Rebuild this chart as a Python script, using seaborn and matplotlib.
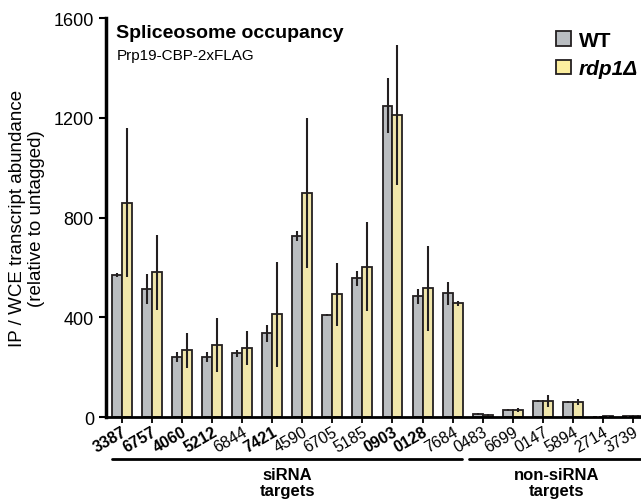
import numpy as np
import pandas as pd
import matplotlib
matplotlib.use('Agg')
import matplotlib.pyplot as plt
import matplotlib.transforms as mtransforms
from matplotlib.patches import Patch
import seaborn as sns

# data
genes = ['3387', '6757', '4060', '5212', '6844', '7421', '4590', '6705', '5185',
         '0903', '0128', '7684', '0483', '6699', '0147', '5894', '2714', '3739']
bold_genes = ['3387', '6757', '4060', '5212', '7421', '0903', '0128']
wt_mean = [568, 512, 240, 240, 256, 336, 728, 408, 556, 1248, 484, 496, 12, 30, 64, 60, 2, 4]
wt_err = [8, 60, 20, 20, 15, 35, 20, 4, 30, 110, 30, 45, 4, 4, 4, 4, 1, 2]
rdp_mean = [860, 580, 268, 288, 276, 412, 900, 492, 604, 1212, 516, 456, 10, 28, 64, 60, 3, 6]
rdp_err = [300, 150, 70, 108, 68, 212, 300, 125, 180, 280, 170, 10, 4, 8, 25, 12, 1, 2]
strains = ['WT', 'rdp1Δ']
colors = ['#b9bdc1', '#fcee9f']
edge = '#231f20'

df = pd.DataFrame({
    'gene': genes * 2,
    'strain': [strains[0]] * len(genes) + [strains[1]] * len(genes),
    'value': wt_mean + rdp_mean,
    'err': wt_err + rdp_err,
})

sns.set_style('ticks')
plt.rcParams['font.family'] = ['Liberation Sans', 'DejaVu Sans']
plt.rcParams.update({'text.color': 'black', 'axes.labelcolor': 'black',
                     'xtick.color': 'black', 'ytick.color': 'black',
                     'axes.edgecolor': 'black'})

fig = plt.figure(figsize=(6.41, 5.02), dpi=100)
ax = fig.add_axes([0.165, 0.167, 0.835, 0.795])

sns.barplot(data=df, x='gene', y='value', hue='strain', order=genes, hue_order=strains,
            palette=colors, width=0.66, errorbar=None, edgecolor=edge, linewidth=1.3,
            legend=False, ax=ax)

# error bars centred on each bar
for cont, s in zip(ax.containers, strains):
    sub = df[df['strain'] == s].set_index('gene').loc[genes]
    xs = [p.get_x() + p.get_width() / 2 for p in cont.patches]
    ax.errorbar(xs, sub['value'], yerr=sub['err'], fmt='none', ecolor=edge,
                elinewidth=1.5, capsize=0, zorder=5)

ax.set_ylim(0, 1600)
ax.set_xlim(-0.53, 17.26)
ax.set_yticks([0, 400, 800, 1200, 1600])
ax.tick_params(axis='y', labelsize=13, width=1.5, length=5)
ax.tick_params(axis='x', labelsize=11.5, width=1.3, length=4, pad=1)
ax.set_xticks(range(len(genes)))
ax.set_xticklabels(genes, rotation=30, ha='right', rotation_mode='anchor')
for lab in ax.get_xticklabels():
    if lab.get_text() in bold_genes:
        lab.set_fontweight('bold')
ax.set_xlabel('')
ax.set_ylabel('IP / WCE transcript abundance\n(relative to untagged)', fontsize=13.5, labelpad=6)
sns.despine(ax=ax)
ax.spines['left'].set_linewidth(2.5)
ax.spines['bottom'].set_linewidth(2.0)

ax.text(0.02, 0.985, 'Spliceosome occupancy', transform=ax.transAxes, fontsize=14,
        fontweight='bold', va='top')
ax.text(0.02, 0.925, 'Prp19-CBP-2xFLAG', transform=ax.transAxes, fontsize=11, va='top')

handles = [Patch(facecolor=c, edgecolor=edge, linewidth=1.3) for c in colors]
leg = ax.legend(handles, ['WT', 'rdp1Δ'], loc='upper right', bbox_to_anchor=(1.03, 1.015),
                frameon=False, handlelength=0.7, handleheight=0.7, handletextpad=0.4,
                labelspacing=0.45, prop={'size': 15, 'weight': 'bold'})
leg.get_texts()[1].set_fontstyle('italic')

# group brackets
trans = mtransforms.blended_transform_factory(ax.transData, ax.transAxes)
ax.plot([-0.32, 11.3], [-0.105, -0.105], color='black', lw=2, transform=trans, clip_on=False)
ax.plot([11.55, 17.3], [-0.105, -0.105], color='black', lw=2, transform=trans, clip_on=False)
ax.text(5.5, -0.125, 'siRNA\ntargets', transform=trans, ha='center', va='top',
        fontsize=12, fontweight='bold', linespacing=1.1)
ax.text(14.45, -0.125, 'non-siRNA\ntargets', transform=trans, ha='center', va='top',
        fontsize=12, fontweight='bold', linespacing=1.1)

fig.savefig('out.png', dpi=100)
